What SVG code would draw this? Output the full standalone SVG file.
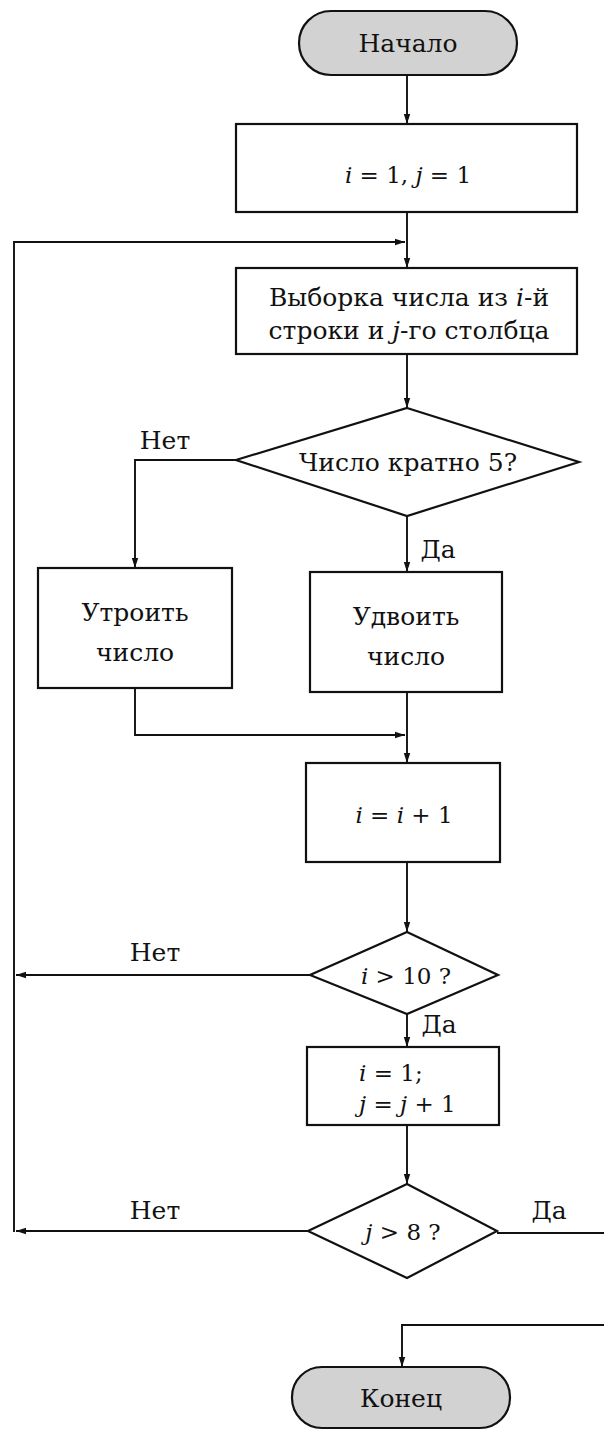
<svg xmlns="http://www.w3.org/2000/svg" width="604" height="1430" viewBox="0 0 604 1430" font-family="'DejaVu Serif', 'Liberation Serif', serif">
<style>
.box{fill:#fff;stroke:#111;stroke-width:2.2}
.term{fill:#d2d2d2;stroke:#111;stroke-width:2.2}
.ln{fill:none;stroke:#111;stroke-width:1.9}
text{font-family:'DejaVu Serif','Liberation Serif',serif;font-size:25px;fill:#111;text-anchor:middle}
.m{font-size:23px}
.l{text-anchor:start}
.it{font-style:italic}
</style>
<defs>
<marker id="ah" markerWidth="10" markerHeight="8" refX="10" refY="4" orient="auto" markerUnits="userSpaceOnUse">
<path d="M0,0.8 L10,4 L0,7.2 Z" fill="#111"/>
</marker>
</defs>
<rect width="604" height="1430" fill="#fff"/>
<g id="connectors">
<line class="ln" x1="407" y1="75" x2="407" y2="124" marker-end="url(#ah)"/>
<line class="ln" x1="407" y1="212" x2="407" y2="268" marker-end="url(#ah)"/>
<polyline class="ln" points="14,1232 14,242 405,242" marker-end="url(#ah)"/>
<line class="ln" x1="407" y1="354" x2="407" y2="408" marker-end="url(#ah)"/>
<polyline class="ln" points="236,460 135,460 135,568" marker-end="url(#ah)"/>
<line class="ln" x1="407" y1="516" x2="407" y2="572" marker-end="url(#ah)"/>
<polyline class="ln" points="135,688 135,735 405,735" marker-end="url(#ah)"/>
<line class="ln" x1="407" y1="692" x2="407" y2="763" marker-end="url(#ah)"/>
<line class="ln" x1="407" y1="862" x2="407" y2="932" marker-end="url(#ah)"/>
<line class="ln" x1="310" y1="975" x2="16" y2="975" marker-end="url(#ah)"/>
<line class="ln" x1="407" y1="1014" x2="407" y2="1047" marker-end="url(#ah)"/>
<line class="ln" x1="407" y1="1125" x2="407" y2="1184" marker-end="url(#ah)"/>
<line class="ln" x1="308" y1="1231" x2="16" y2="1231" marker-end="url(#ah)"/>
<line class="ln" x1="497" y1="1233" x2="604" y2="1233"/>
<polyline class="ln" points="604,1325 402,1325 402,1367" marker-end="url(#ah)"/>
<text x="165" y="449">Нет</text>
<text x="438" y="558">Да</text>
<text x="155" y="961">Нет</text>
<text x="439" y="1033">Да</text>
<text x="155" y="1219">Нет</text>
<text x="549" y="1219">Да</text>
</g>
<g id="start">
<rect class="term" x="299" y="11" width="218" height="64" rx="32"/>
<text x="408" y="52">Начало</text>
</g>
<g id="init">
<rect class="box" x="236" y="124" width="341" height="88"/>
<text class="m" x="408" y="183"><tspan class="it">i</tspan> = 1, <tspan class="it">j</tspan> = 1</text>
</g>
<g id="fetch">
<rect class="box" x="236" y="268" width="341" height="86"/>
<text x="409" y="306">Выборка числа из <tspan class="it">i</tspan>-й</text>
<text x="409" y="339">строки и <tspan class="it">j</tspan>-го столбца</text>
</g>
<g id="check5">
<polygon class="box" points="407,408 579,462 407,516 236,460"/>
<text x="408" y="471">Число кратно 5?</text>
</g>
<g id="triple">
<rect class="box" x="38" y="568" width="194" height="120"/>
<text x="135" y="621">Утроить</text>
<text x="135" y="661">число</text>
</g>
<g id="double">
<rect class="box" x="310" y="572" width="192" height="120"/>
<text x="406" y="625">Удвоить</text>
<text x="406" y="665">число</text>
</g>
<g id="inc_i">
<rect class="box" x="306" y="763" width="194" height="99"/>
<text class="m" x="404" y="823"><tspan class="it">i</tspan> = <tspan class="it">i</tspan> + 1</text>
</g>
<g id="check_i">
<polygon class="box" points="407,932 498,975 407,1014 310,975"/>
<text class="m" x="406" y="984"><tspan class="it">i</tspan> &gt; 10 ?</text>
</g>
<g id="reset">
<rect class="box" x="307" y="1047" width="192" height="78"/>
<text class="m l" x="359" y="1081"><tspan class="it">i</tspan> = 1;</text>
<text class="m l" x="359" y="1112"><tspan class="it">j</tspan> = <tspan class="it">j</tspan> + 1</text>
</g>
<g id="check_j">
<polygon class="box" points="407,1184 497,1231 407,1278 308,1231"/>
<text class="m" x="403" y="1240"><tspan class="it">j</tspan> &gt; 8 ?</text>
</g>
<g id="end">
<rect class="term" x="292" y="1367" width="218" height="61" rx="30"/>
<text x="401" y="1407">Конец</text>
</g>
</svg>
